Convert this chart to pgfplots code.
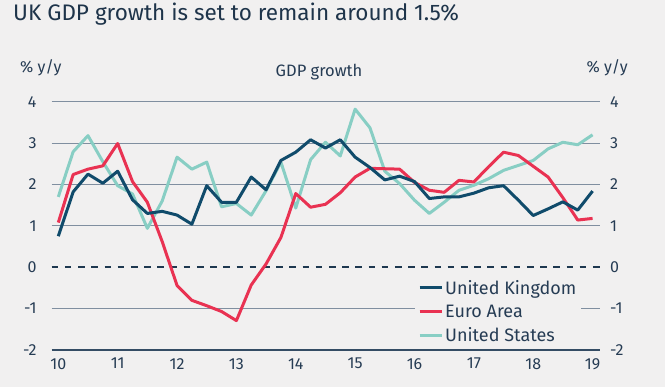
\documentclass[border=0pt]{standalone}
\usepackage{pgfplots}
\pgfplotsset{compat=1.18}
\usepackage{fontspec}
\setmainfont{Fira Sans}
\definecolor{bg}{RGB}{241,240,240}
\definecolor{titlec}{RGB}{30,52,74}
\definecolor{textc}{RGB}{38,60,84}
\definecolor{ukc}{RGB}{16,75,107}
\definecolor{euc}{RGB}{233,50,82}
\definecolor{usc}{RGB}{136,206,196}
\definecolor{gridc}{RGB}{128,143,160}
\definecolor{axisc}{RGB}{52,76,100}
\definecolor{dashc}{RGB}{30,56,80}

\pgfplotstableread{
i uk
0 0.75
1 1.82
2 2.25
3 2.03
4 2.32
5 1.63
6 1.30
7 1.35
8 1.26
9 1.04
10 1.97
11 1.57
12 1.57
13 2.18
14 1.87
15 2.58
16 2.78
17 3.08
18 2.88
19 3.08
20 2.66
21 2.41
22 2.11
23 2.20
24 2.07
25 1.66
26 1.70
27 1.70
28 1.79
29 1.92
30 1.97
31 1.62
32 1.25
33 1.41
34 1.58
35 1.38
36 1.84
}\uktable

\pgfplotstableread{
i eu
0 1.08
1 2.24
2 2.37
3 2.45
4 2.99
5 2.07
6 1.57
7 0.62
8 -0.44
9 -0.80
10 -0.93
11 -1.07
12 -1.29
13 -0.43
14 0.08
15 0.72
16 1.78
17 1.45
18 1.52
19 1.80
20 2.18
21 2.39
22 2.38
23 2.37
24 2.05
25 1.86
26 1.81
27 2.10
28 2.06
29 2.43
30 2.78
31 2.70
32 2.44
33 2.18
34 1.68
35 1.14
36 1.18
}\eutable

\pgfplotstableread{
i us
0 1.70
1 2.79
2 3.18
3 2.55
4 1.97
5 1.77
6 0.94
7 1.60
8 2.66
9 2.37
10 2.54
11 1.46
12 1.54
13 1.26
14 1.85
15 2.54
16 1.43
17 2.60
18 3.02
19 2.69
20 3.82
21 3.37
22 2.32
23 2.02
24 1.62
25 1.30
26 1.57
27 1.86
28 1.98
29 2.14
30 2.34
31 2.46
32 2.58
33 2.86
34 3.02
35 2.96
36 3.20
}\ustable

\begin{document}
\begin{tikzpicture}[x=1pt,y=1pt]
\fill[bg] (0,0) rectangle (665,387);
\node[anchor=base west, text=titlec, font=\fontsize{22.5}{23}\selectfont, inner sep=0] at (13,366) {UK GDP growth is set to remain around 1.5\%};
\node[anchor=west, inner sep=0, font=\fontsize{16}{16}\selectfont, text=textc] at (20,319) {\% y/y};
\node[anchor=east, inner sep=0, font=\fontsize{16}{16}\selectfont, text=textc] at (628,319) {\% y/y};
\node[inner sep=0, font=\fontsize{16.5}{17}\selectfont, text=textc] at (319,315) {GDP growth};

\begin{axis}[
  at={(51.7pt,37pt)}, anchor=south west,
  scale only axis, width=548.3pt, height=248.3pt,
  xmin=-0.445, xmax=36.5, ymin=-2, ymax=4,
  axis x line*=bottom, axis y line*=left,
  x axis line style={draw=axisc, line width=1.2pt},
  y axis line style={draw=none},
  xtick={0,4,8,12,16,20,24,28,32,36},
  xticklabels={10,11,12,13,14,15,16,17,18,19},
  ytick={-2,-1,0,1,2,3,4},
  yticklabels={-2,-1,0,1,2,3,4},
  major tick length=0pt,
  tick label style={font=\fontsize{16}{16}\selectfont, text=textc, inner sep=0pt},
  yticklabel style={anchor=east, xshift=-15pt},
  xticklabel style={anchor=north, yshift=-8pt},
  clip=false,
  reverse legend,
  legend cell align=left,
  legend style={at={(rel axis cs:0.6626,0.298)}, anchor=north west, fill=bg, draw=none,
    font=\fontsize{18}{18}\selectfont, text=textc, row sep=5pt, inner xsep=3pt, inner ysep=2pt},
  legend image code/.code={\draw[#1, line width=3pt] (0pt,0pt) -- (22pt,0pt);},
]
\draw[gridc, line width=1pt] (axis cs:-0.445,-1) -- (axis cs:36.5,-1);
\draw[gridc, line width=1pt] (axis cs:-0.445,1) -- (axis cs:36.5,1);
\draw[gridc, line width=1pt] (axis cs:-0.445,2) -- (axis cs:36.5,2);
\draw[gridc, line width=1pt] (axis cs:-0.445,3) -- (axis cs:36.5,3);
\draw[gridc, line width=1pt] (axis cs:-0.445,4) -- (axis cs:36.5,4);
\draw[dashc, line width=1.8pt, dash pattern=on 6.6pt off 6.6pt] (axis cs:-0.445,0) -- (axis cs:36.5,0);
\addplot[usc, line width=3pt, line join=round] table[x=i, y=us] {\ustable};
\addlegendentry{United States}
\addplot[euc, line width=3pt, line join=round] table[x=i, y=eu] {\eutable};
\addlegendentry{Euro Area}
\addplot[ukc, line width=3pt, line join=round] table[x=i, y=uk] {\uktable};
\addlegendentry{United Kingdom}
\end{axis}

\begin{axis}[
  at={(51.7pt,37pt)}, anchor=south west,
  scale only axis, width=548.3pt, height=248.3pt,
  xmin=-0.445, xmax=36.5, ymin=-2, ymax=4,
  hide x axis,
  axis y line*=right,
  y axis line style={draw=none},
  ytick={-2,-1,0,1,2,3,4},
  yticklabels={-2,-1,0,1,2,3,4},
  major tick length=0pt,
  tick label style={font=\fontsize{16}{16}\selectfont, text=textc, inner sep=0pt},
  yticklabel style={anchor=west, xshift=10pt},
]
\end{axis}
\end{tikzpicture}
\end{document}
